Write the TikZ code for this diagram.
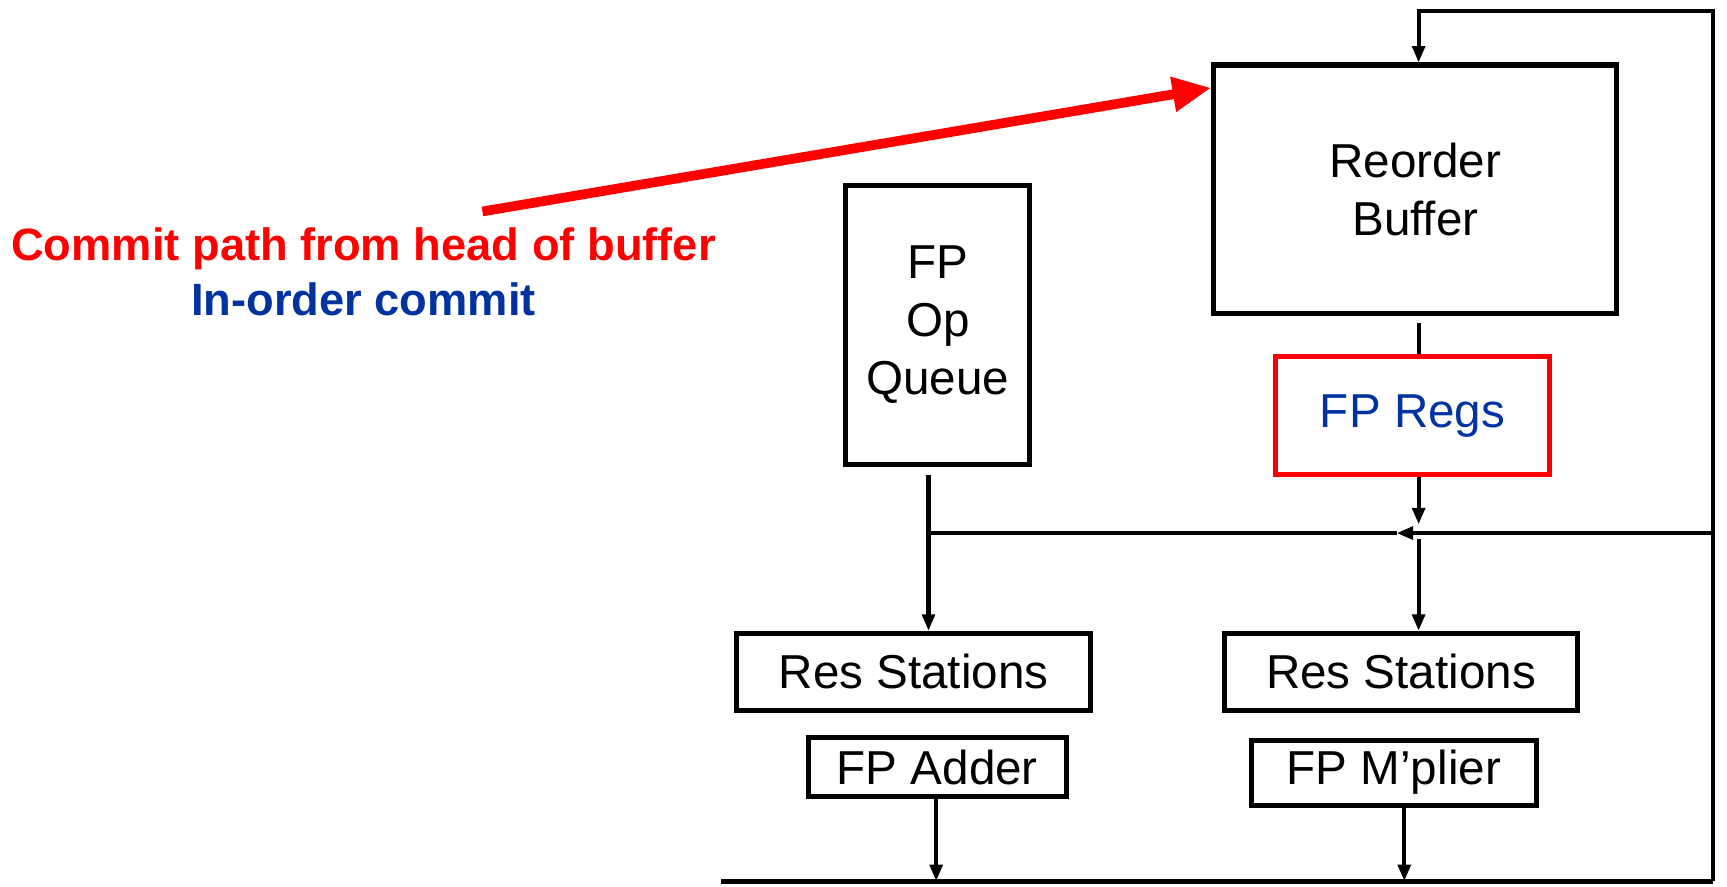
\documentclass[tikz,border=0pt]{standalone}
\usepackage{fontspec}
\setmainfont{Liberation Sans}
\usepackage{tikz}
\usetikzlibrary{arrows.meta, positioning, calc}
\definecolor{regblue}{RGB}{0,51,160}

\begin{document}
\begin{tikzpicture}[
    x=0.02cm, y=-0.02cm,
    box/.style={rectangle, draw, line width=2.6pt, inner sep=0pt, align=center, font=\fontsize{24.6}{30}\selectfont},
    note/.style={font=\bfseries\fontsize{23.4}{28}\selectfont, inner sep=0pt},
    line/.style={line width=2.1pt},
    arrow/.style={line width=2.1pt, -{Triangle[length=8.5pt, width=6.5pt]}},
    commit/.style={line width=5pt, red, -{Triangle[length=20pt, width=17pt]}}
]
    \useasboundingbox (0,0) rectangle (1568,805);

    % Reorder buffer and registers
    \node [box, minimum width=7.32cm, minimum height=4.52cm] (rob) at (1285,172) {Reorder\\Buffer};
    \node [box, draw=red, text=regblue, minimum width=4.98cm, minimum height=2.14cm] (regs) at (1282.5,377.5) {FP Regs};

    % Op queue
    \node [box, minimum width=3.34cm, minimum height=5.08cm] (queue) at (851.5,295) {FP\\Op\\Queue};

    % Reservation stations and units
    \node [box, minimum width=6.42cm, minimum height=1.4cm] (rs1) at (829.5,610) {Res Stations};
    \node [box, minimum width=6.4cm, minimum height=1.4cm] (rs2) at (1272,610) {Res Stations};
    \node [box, minimum width=4.68cm, minimum height=1.06cm] (adder) at (851,696.5) {FP Adder};
    \node [box, minimum width=5.18cm, minimum height=1.18cm] (mult) at (1265.5,701.5) {FP M'plier};

    % Bus points
    \coordinate (busL) at (843,484);
    \coordinate (busM) at (1288,484);
    \coordinate (busR) at (1555,484);
    \coordinate (cdbL) at (655,800);
    \coordinate (cdbR) at (1555,800);
    \coordinate (loopTR) at (1555,10);
    \coordinate (loopTL) at (1288,10);
    \coordinate (addX) at (850,800);
    \coordinate (multX) at (1275,800);

    % Labels
    \node [note, text=red] (pathlabel) at (330,226) {Commit path from head of buffer};
    \node [note, text=regblue] (orderlabel) at (330,272) {In-order commit};
    \coordinate (commitstart) at (438,192);

    % Arrows
    \draw [commit] (commitstart) -- ($(rob.north west)+(0,23)$);
    \draw [arrow] (cdbR) -- (loopTR) -- (loopTL) -- (rob.north -| loopTL);
    \draw [line] ($(rob.south -| busM)+(0,6)$) -- (regs.north -| busM);
    \draw [arrow] (regs.south -| busM) -- ($(busM)+(0,-8)$);
    \draw [arrow] (busR) -- ($(busM)+(-20,0)$);
    \draw [line] ($(busM)+(-20,0)$) -- (busL);
    \draw [arrow] ($(queue.south -| busL)+(0,7)$) -- (rs1.north -| busL);
    \draw [arrow] ($(busM)+(0,5)$) -- (rs2.north -| busM);
    \draw [arrow] (adder.south -| addX) -- (addX);
    \draw [arrow] (mult.south -| multX) -- (multX);
    \draw [line width=2.6pt] (cdbL) -- (cdbR);
\end{tikzpicture}
\end{document}
